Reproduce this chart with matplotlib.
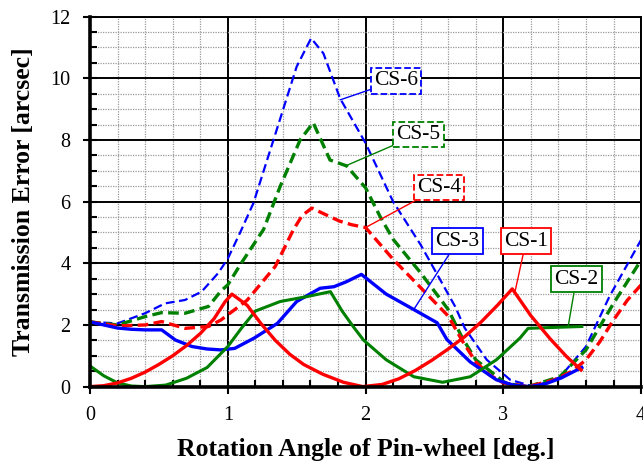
import numpy as np
import matplotlib.pyplot as plt
from matplotlib.ticker import MultipleLocator

# CS-1 (red, solid)
cs1_x = [0, 0.1, 0.2, 0.3, 0.4, 0.5, 0.6, 0.7, 0.8, 0.9, 0.98, 1.03, 1.14, 1.24, 1.345,
         1.45, 1.55, 1.69, 1.84, 1.98, 2.12, 2.24, 2.36, 2.48, 2.6, 2.72, 2.84, 2.96,
         3.065, 3.2, 3.34, 3.46, 3.565]
cs1_y = [0, 0.03, 0.12, 0.27, 0.47, 0.72, 1.0, 1.33, 1.72, 2.2, 2.75, 3.0, 2.64, 2.05, 1.5,
         1.05, 0.72, 0.4, 0.14, 0, 0.07, 0.25, 0.52, 0.85, 1.22, 1.62, 2.1, 2.65,
         3.17, 2.3, 1.55, 0.97, 0.54]

# CS-2 (green, solid)
cs2_x = [0, 0.1, 0.2, 0.3, 0.4, 0.55, 0.7, 0.85, 1.0, 1.1, 1.2, 1.38, 1.575, 1.745, 1.83,
         1.91, 1.985, 2.15, 2.35, 2.56, 2.76, 2.95, 3.12, 3.18, 3.37, 3.57]
cs2_y = [0.67, 0.35, 0.12, 0.02, 0, 0.05, 0.27, 0.62, 1.3, 1.9, 2.45, 2.76, 2.92, 3.08, 2.45,
         1.95, 1.51, 0.87, 0.32, 0.14, 0.32, 0.87, 1.57, 1.89, 1.92, 1.95]

# CS-3 (blue, solid)
cs3_x = [0, 0.1, 0.2, 0.3, 0.4, 0.52, 0.62, 0.74, 0.85, 0.95, 1.05, 1.19, 1.36, 1.5, 1.67,
         1.77, 1.86, 1.97, 2.15, 2.35, 2.52, 2.59, 2.76, 2.95, 3.07, 3.19, 3.3, 3.42, 3.57]
cs3_y = [2.1, 2.0, 1.9, 1.86, 1.84, 1.84, 1.51, 1.3, 1.22, 1.19, 1.24, 1.57, 2.05, 2.76, 3.19,
         3.24, 3.4, 3.64, 3.0, 2.5, 2.07, 1.53, 0.8, 0.22, 0.05, 0, 0.08, 0.28, 0.62]

# CS-4 (red, dashed)
cs4_x = [0, 0.2, 0.4, 0.52, 0.69, 0.86, 0.95, 1.14, 1.345, 1.475, 1.54, 1.61, 1.7, 1.81,
         1.9, 2.0, 2.2, 2.4, 2.6, 2.7, 2.8, 2.9, 3.0, 3.18, 3.37, 3.5, 3.6, 3.7, 3.8, 3.9, 4.0]
cs4_y = [2.1, 1.97, 2.0, 2.11, 1.89, 1.95, 2.16, 2.8, 3.9, 5.08, 5.55, 5.79, 5.6, 5.37,
         5.25, 5.16, 4.13, 3.21, 2.29, 1.5, 0.8, 0.38, 0.12, 0, 0.22, 0.5, 0.87, 1.45, 2.16, 2.8, 3.3]

# CS-5 (green, dashed)
cs5_x = [0, 0.2, 0.4, 0.52, 0.69, 0.86, 0.95, 1.0, 1.09, 1.26, 1.38, 1.525, 1.62, 1.742,
         1.862, 2.0, 2.104, 2.2, 2.4, 2.6, 2.7, 2.8, 3.02, 3.18, 3.41, 3.6, 3.8, 4.0]
cs5_y = [2.1, 2.0, 2.27, 2.4, 2.38, 2.6, 3.1, 3.3, 3.95, 5.1, 6.49, 8.0, 8.56, 7.35,
         7.16, 6.45, 5.53, 4.78, 3.69, 2.5, 1.6, 0.87, 0.1, 0, 0.32, 1.19, 2.7, 4.1]

# CS-6 (blue, dashed)
cs6_x = [0, 0.2, 0.4, 0.545, 0.69, 0.81, 0.93, 1.0, 1.09, 1.186, 1.355, 1.5, 1.605, 1.694,
         1.815, 2.0, 2.2, 2.4, 2.55, 2.65, 2.72, 2.88, 3.05, 3.22, 3.41, 3.6, 3.77, 4.0]
cs6_y = [2.1, 2.05, 2.38, 2.7, 2.81, 3.08, 3.68, 4.15, 5.0, 5.95, 8.33, 10.38, 11.3, 10.81,
         9.35, 7.9, 6.0, 4.6, 3.4, 2.6, 1.9, 0.87, 0.22, 0, 0.3, 1.3, 2.92, 4.76]

plt.rcParams['font.family'] = ['Liberation Serif', 'DejaVu Serif']

fig = plt.figure(figsize=(6.43, 4.63), dpi=100)
ax = fig.add_axes([0.14, 0.165, 0.857, 0.799])

dash = (0, (3.2, 1.6))
ax.plot(cs6_x, cs6_y, color='#0000ff', lw=1.6, ls=(0, (4, 2)))
ax.plot(cs5_x, cs5_y, color='#008000', lw=2.4, ls=dash)
ax.plot(cs4_x, cs4_y, color='#ff0000', lw=2.4, ls=dash)
ax.plot(cs3_x, cs3_y, color='#0000ff', lw=2.4)
ax.plot(cs2_x, cs2_y, color='#008000', lw=2.2)
ax.plot(cs1_x, cs1_y, color='#ff0000', lw=2.4)

ax.set_xlim(0, 4)
ax.set_ylim(0, 12)
ax.xaxis.set_major_locator(MultipleLocator(1))
ax.xaxis.set_minor_locator(MultipleLocator(0.2))
ax.yaxis.set_major_locator(MultipleLocator(2))
ax.yaxis.set_minor_locator(MultipleLocator(0.5))

ax.grid(which='minor', color='#9a9a9a', ls=(0, (1, 1)), lw=0.9)
ax.grid(which='major', color='black', ls='-', lw=1.4)
ax.set_axisbelow(True)

ax.tick_params(which='major', direction='inout', length=10, width=1.5, labelsize=14.5, pad=9)
ax.tick_params(which='minor', direction='in', length=5, width=1.5)

for side in ['left', 'bottom']:
    ax.spines[side].set_linewidth(2.6)
for side in ['top', 'right']:
    ax.spines[side].set_linewidth(1.4)

ax.set_xlabel('Rotation Angle of Pin-wheel [deg.]', fontsize=18.5, fontweight='bold', labelpad=9)
ax.set_ylabel('Transmission Error [arcsec]', fontsize=18.5, fontweight='bold', labelpad=11)

labels = [
    ('CS-6', (1.815, 9.3), (2.22, 9.92), '#0000ff', '--'),
    ('CS-5', (1.86, 7.17), (2.385, 8.18), '#008000', '--'),
    ('CS-4', (2.0, 5.16), (2.534, 6.45), '#ff0000', '--'),
    ('CS-3', (2.35, 2.5), (2.668, 4.72), '#0000ff', '-'),
    ('CS-1', (3.085, 3.08), (3.165, 4.72), '#ff0000', '-'),
    ('CS-2', (3.47, 1.93), (3.53, 3.49), '#008000', '-'),
]
for txt, xy, xyt, c, ls in labels:
    ax.annotate(txt, xy=xy, xytext=xyt, fontsize=15.5, ha='center', va='center',
                bbox=dict(boxstyle='square,pad=0.15', fc='white', ec=c, ls=ls, lw=1.3),
                arrowprops=dict(arrowstyle='-', color=c, lw=1.0, shrinkA=0, shrinkB=0))

fig.savefig('out.png', dpi=100)
